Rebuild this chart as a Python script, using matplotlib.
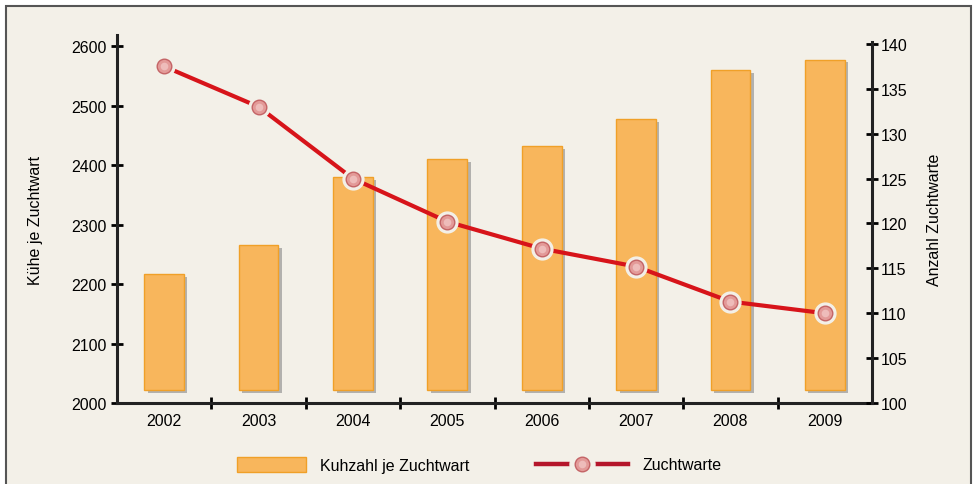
import matplotlib
matplotlib.use("Agg")
import matplotlib.pyplot as plt
import matplotlib.patheffects as pe
from matplotlib.patches import Patch, Rectangle
from matplotlib.lines import Line2D
import numpy as np

plt.rcParams['font.family'] = ['Liberation Sans', 'DejaVu Sans']

jahre = ['2002', '2003', '2004', '2005', '2006', '2007', '2008', '2009']
kuehe_je_zuchtwart = [2217, 2266, 2380, 2410, 2432, 2477, 2560, 2577]
anzahl_zuchtwarte = [137.5, 133.0, 125.0, 120.2, 117.2, 115.2, 111.3, 110.0]
balken_basis = 2022

bg = '#f3f0e8'
fs = 11.5
fig = plt.figure(figsize=(9.74, 4.85), dpi=100, facecolor='white')
fig.patches.append(Rectangle((6 / 974, -0.05), 965 / 974, 1 - 7 / 485 + 0.05,
                             transform=fig.transFigure, facecolor=bg,
                             edgecolor='#555555', linewidth=1.5, zorder=-5))

ax = fig.add_axes([117 / 974, 81 / 485, 755 / 974, 368 / 485])
ax.set_facecolor('none')
x = np.arange(len(jahre))

ax.bar(x, np.array(kuehe_je_zuchtwart) - balken_basis, bottom=balken_basis,
       width=0.42, color='#f8b65c', edgecolor='#f0a028', linewidth=1,
       path_effects=[pe.SimplePatchShadow(offset=(2.5, -2), shadow_rgbFace='#888888', alpha=0.6),
                     pe.Normal()], zorder=2)

ax.set_xlim(-0.5, 7.5)
ax.set_ylim(2000, 2618.5)
ax.set_yticks(range(2000, 2601, 100))
ax.set_xticks(x)
ax.set_xticklabels(jahre)
ax.set_xticks(np.arange(0.5, 7.5, 1), minor=True)
ax.tick_params(axis='x', which='major', length=0, pad=7, labelsize=fs)
ax.tick_params(axis='x', which='minor', direction='inout', length=9, width=2)
ax.tick_params(axis='y', direction='inout', length=9, width=2, labelsize=fs, pad=3)
for s in ['top', 'right']:
    ax.spines[s].set_visible(False)
for s in ['left', 'bottom']:
    ax.spines[s].set_linewidth(2.2)
    ax.spines[s].set_color('#222222')
ax.set_ylabel('Kühe je Zuchtwart', fontsize=fs, labelpad=20)

ax2 = ax.twinx()
ax2.set_ylim(100, 141)
ax2.set_yticks(range(100, 141, 5))
ax2.tick_params(axis='y', direction='inout', length=9, width=2, labelsize=fs, pad=2)
for s in ['top', 'left', 'bottom']:
    ax2.spines[s].set_visible(False)
ax2.spines['right'].set_linewidth(2.2)
ax2.spines['right'].set_color('#222222')
ax2.spines['right'].set_bounds(100, 140.2)
ax2.set_ylabel('Anzahl Zuchtwarte', fontsize=fs, labelpad=14)

ax2.plot(x, anzahl_zuchtwarte, color='#d7141a', linewidth=3, zorder=3,
         solid_capstyle='round')
ax2.plot(x, anzahl_zuchtwarte, linestyle='none', marker='o', markersize=15,
         markerfacecolor=bg, markeredgecolor=bg, zorder=4)
ax2.plot(x, anzahl_zuchtwarte, linestyle='none', marker='o', markersize=10.5,
         markerfacecolor='#e39a98', markeredgecolor='#c46466', markeredgewidth=1, zorder=5)
ax2.plot(x, anzahl_zuchtwarte, linestyle='none', marker='o', markersize=5.5,
         markerfacecolor='#eebcba', markeredgecolor='none', zorder=6)

h1 = Patch(facecolor='#f8b65c', edgecolor='#f0a028')
fig.legend([h1], ['Kuhzahl je Zuchtwart'], loc='center left',
           bbox_to_anchor=(223 / 974, 19 / 485), frameon=False, fontsize=fs,
           handlelength=4.3, handleheight=1.1, handletextpad=0.9)
h2_line = Line2D([], [], color='#b5162b', linewidth=3.2)
h2_ring = Line2D([], [], linestyle='none', marker='o', markersize=18,
                 markerfacecolor=bg, markeredgecolor=bg)
h2_dot = Line2D([], [], linestyle='none', marker='o', markersize=10.5,
                markerfacecolor='#e39a98', markeredgecolor='#c46466')
h2_glanz = Line2D([], [], linestyle='none', marker='o', markersize=5.5,
                  markerfacecolor='#eebcba', markeredgecolor='none')
fig.legend([(h2_line, h2_ring, h2_dot, h2_glanz)], ['Zuchtwarte'], loc='center left',
           bbox_to_anchor=(522 / 974, 19 / 485), frameon=False, fontsize=fs,
           handlelength=5.75, handletextpad=0.9)

fig.savefig('out.png', dpi=100, facecolor='white')
